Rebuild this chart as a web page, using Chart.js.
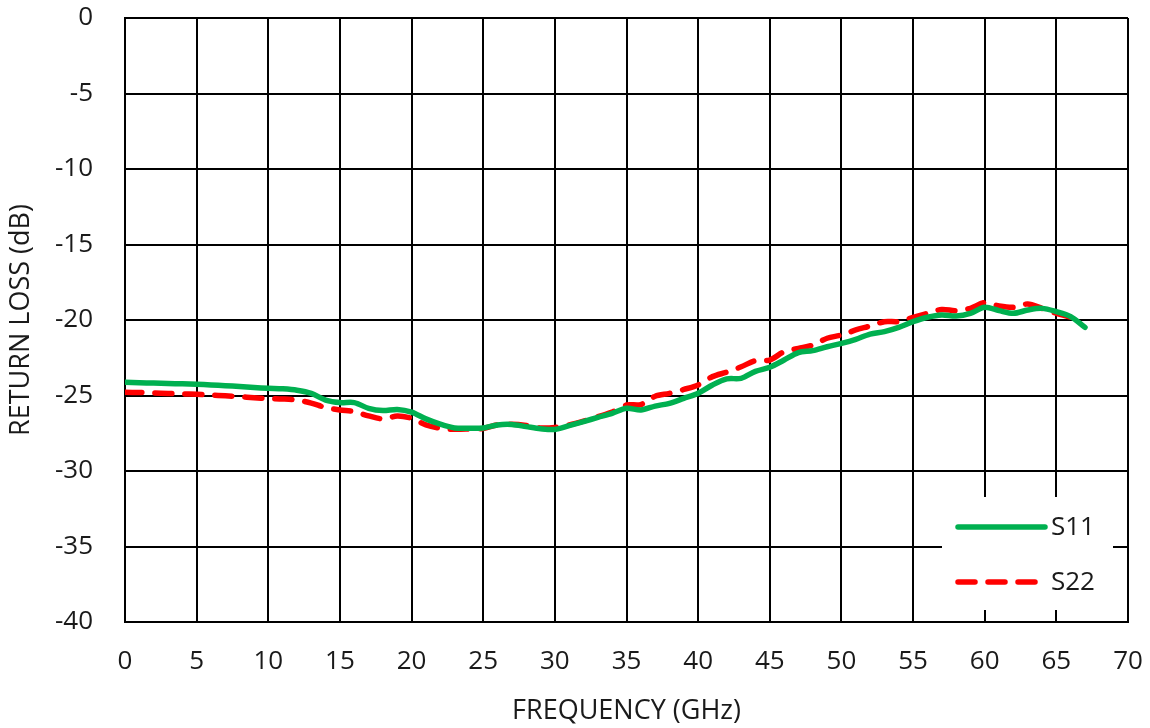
<!DOCTYPE html>
<html>
<head>
<meta charset="utf-8">
<script src="https://cdn.jsdelivr.net/npm/chart.js@4/dist/chart.umd.min.js"></script>
<style>
	html, body { margin: 0; padding: 0; background: #fff; }
	#wrap { width: 1150px; height: 728px; }
</style>
</head>
<body>
<div id="wrap"><canvas id="rl-chart" width="1150" height="728"></canvas></div>
<script>
// frequency points (GHz)
var freqS11 = [0,1,2,3,4,5,6,7,8,9,10,11,12,13,14,15,16,17,18,19,20,21,22,23,24,25,26,27,28,29,30,31,32,33,34,35,36,37,38,39,40,41,42,43,44,45,46,47,48,49,50,51,52,53,54,55,56,57,58,59,60,61,62,63,64,65,66,67];
var s11 = [-24.13,-24.15,-24.18,-24.2,-24.23,-24.26,-24.3,-24.35,-24.4,-24.47,-24.52,-24.56,-24.65,-24.86,-25.3,-25.47,-25.47,-25.85,-26.0,-25.92,-26.1,-26.55,-26.9,-27.15,-27.17,-27.15,-26.95,-26.92,-27.06,-27.2,-27.25,-27.0,-26.73,-26.45,-26.18,-25.85,-25.96,-25.7,-25.52,-25.19,-24.85,-24.3,-23.9,-23.86,-23.4,-23.13,-22.65,-22.16,-22.03,-21.77,-21.55,-21.28,-20.93,-20.77,-20.49,-20.11,-19.82,-19.67,-19.74,-19.56,-19.16,-19.38,-19.56,-19.34,-19.23,-19.45,-19.78,-20.49];
var freqS22 = [0,1,2,3,4,5,6,7,8,9,10,11,12,13,14,15,16,17,18,19,20,21,22,23,24,25,26,27,28,29,30,31,32,33,34,35,36,37,38,39,40,41,42,43,44,45,46,47,48,49,50,51,52,53,54,55,56,57,58,59,60,61,62,63,64,65,66,66.5];
var s22 = [-24.79,-24.8,-24.83,-24.86,-24.9,-24.92,-24.97,-25.02,-25.08,-25.15,-25.2,-25.23,-25.3,-25.5,-25.8,-25.96,-26.07,-26.35,-26.55,-26.36,-26.51,-26.95,-27.17,-27.24,-27.22,-27.18,-26.95,-26.9,-26.98,-27.15,-27.12,-26.95,-26.7,-26.4,-26.1,-25.63,-25.6,-25.05,-24.86,-24.6,-24.3,-23.75,-23.45,-23.1,-22.69,-22.65,-22.1,-21.88,-21.66,-21.21,-20.99,-20.66,-20.4,-20.11,-20.1,-19.82,-19.56,-19.3,-19.38,-19.23,-18.85,-19.07,-19.16,-18.94,-19.23,-19.56,-19.82,-20.04];

var seriesNames = ["S11", "S22"];
var xTitle = "FREQUENCY (GHz)";
var yTitle = "RETURN LOSS (dB)";

var fontFamily = "'Open Sans', Lato, sans-serif";
var textColor = "#1a1a1a";

function toPoints(xs, ys) {
	var pts = [];
	for (var i = 0; i < xs.length; i++) {
		pts.push({x: xs[i], y: ys[i]});
	}
	return pts;
}

// legend box drawn inside the plot, bottom right, white background
var insideLegend = {
	id: "insideLegend",
	beforeDatasetsDraw: function(chart) {
		var ctx = chart.ctx;
		var area = chart.chartArea;
		var right = area.right - 15;
		var bottom = area.bottom - 12;
		ctx.save();
		ctx.fillStyle = "#fff";
		ctx.fillRect(right - 171, bottom - 113, 171, 113);
		ctx.restore();
	},
	afterDatasetsDraw: function(chart) {
		var ctx = chart.ctx;
		var area = chart.chartArea;
		var x0 = area.right - 170;
		var y0 = area.bottom - 95;
		ctx.save();
		chart.data.datasets.forEach(function(ds, i) {
			var y = y0 + i * 55;
			ctx.strokeStyle = ds.borderColor;
			ctx.lineWidth = ds.borderWidth;
			ctx.lineCap = "round";
			ctx.setLineDash(ds.borderDash || []);
			ctx.beginPath();
			ctx.moveTo(x0, y);
			ctx.lineTo(x0 + 87, y);
			ctx.stroke();
			ctx.setLineDash([]);
			ctx.fillStyle = textColor;
			ctx.font = "26px " + fontFamily;
			ctx.textBaseline = "middle";
			ctx.textAlign = "left";
			ctx.fillText(ds.label, x0 + 93, y + 1);
		});
		ctx.restore();
	}
};

var chart = new Chart(document.getElementById("rl-chart"), {
	type: "line",
	data: {
		datasets: [
			{
				label: seriesNames[0],
				data: toPoints(freqS11, s11),
				borderColor: "#00B050",
				borderWidth: 5.5,
				borderCapStyle: "round",
				borderJoinStyle: "round",
				pointRadius: 0,
				tension: 0.3,
				fill: false
			},
			{
				label: seriesNames[1],
				data: toPoints(freqS22, s22),
				borderColor: "#FF0000",
				borderWidth: 5.5,
				borderDash: [17, 13],
				borderCapStyle: "round",
				borderJoinStyle: "round",
				pointRadius: 0,
				tension: 0.3,
				fill: false
			}
		]
	},
	options: {
		responsive: false,
		animation: false,
		devicePixelRatio: 1,
		layout: { padding: { left: 0, right: 22, top: 18, bottom: 0 } },
		plugins: {
			legend: { display: false },
			tooltip: { enabled: false }
		},
		scales: {
			x: {
				type: "linear",
				min: 0,
				max: 70,
				ticks: {
					stepSize: 5,
					padding: 24,
					color: textColor,
					font: { family: fontFamily, size: 26 }
				},
				grid: { color: "#000", lineWidth: 2, drawTicks: false },
				border: { display: true, color: "#000", width: 2 },
				title: {
					display: true,
					text: xTitle,
					color: textColor,
					padding: { top: 0, bottom: 0 },
					font: { family: fontFamily, size: 27 }
				},
				afterFit: function(scale) {
					scale.height = 106;
					scale.paddingLeft = 0;
					scale.paddingRight = 0;
				}
			},
			y: {
				type: "linear",
				min: -40,
				max: 0,
				ticks: {
					stepSize: 5,
					padding: 32,
					color: textColor,
					font: { family: fontFamily, size: 26 }
				},
				grid: { color: "#000", lineWidth: 2, drawTicks: false },
				border: { display: true, color: "#000", width: 2 },
				title: {
					display: true,
					text: yTitle,
					color: textColor,
					padding: { top: 5, bottom: 0 },
					font: { family: fontFamily, size: 27 }
				},
				afterFit: function(scale) {
					scale.width = 125;
					scale.paddingTop = 0;
					scale.paddingBottom = 0;
				}
			}
		}
	},
	plugins: [insideLegend]
});
</script>
</body>
</html>
